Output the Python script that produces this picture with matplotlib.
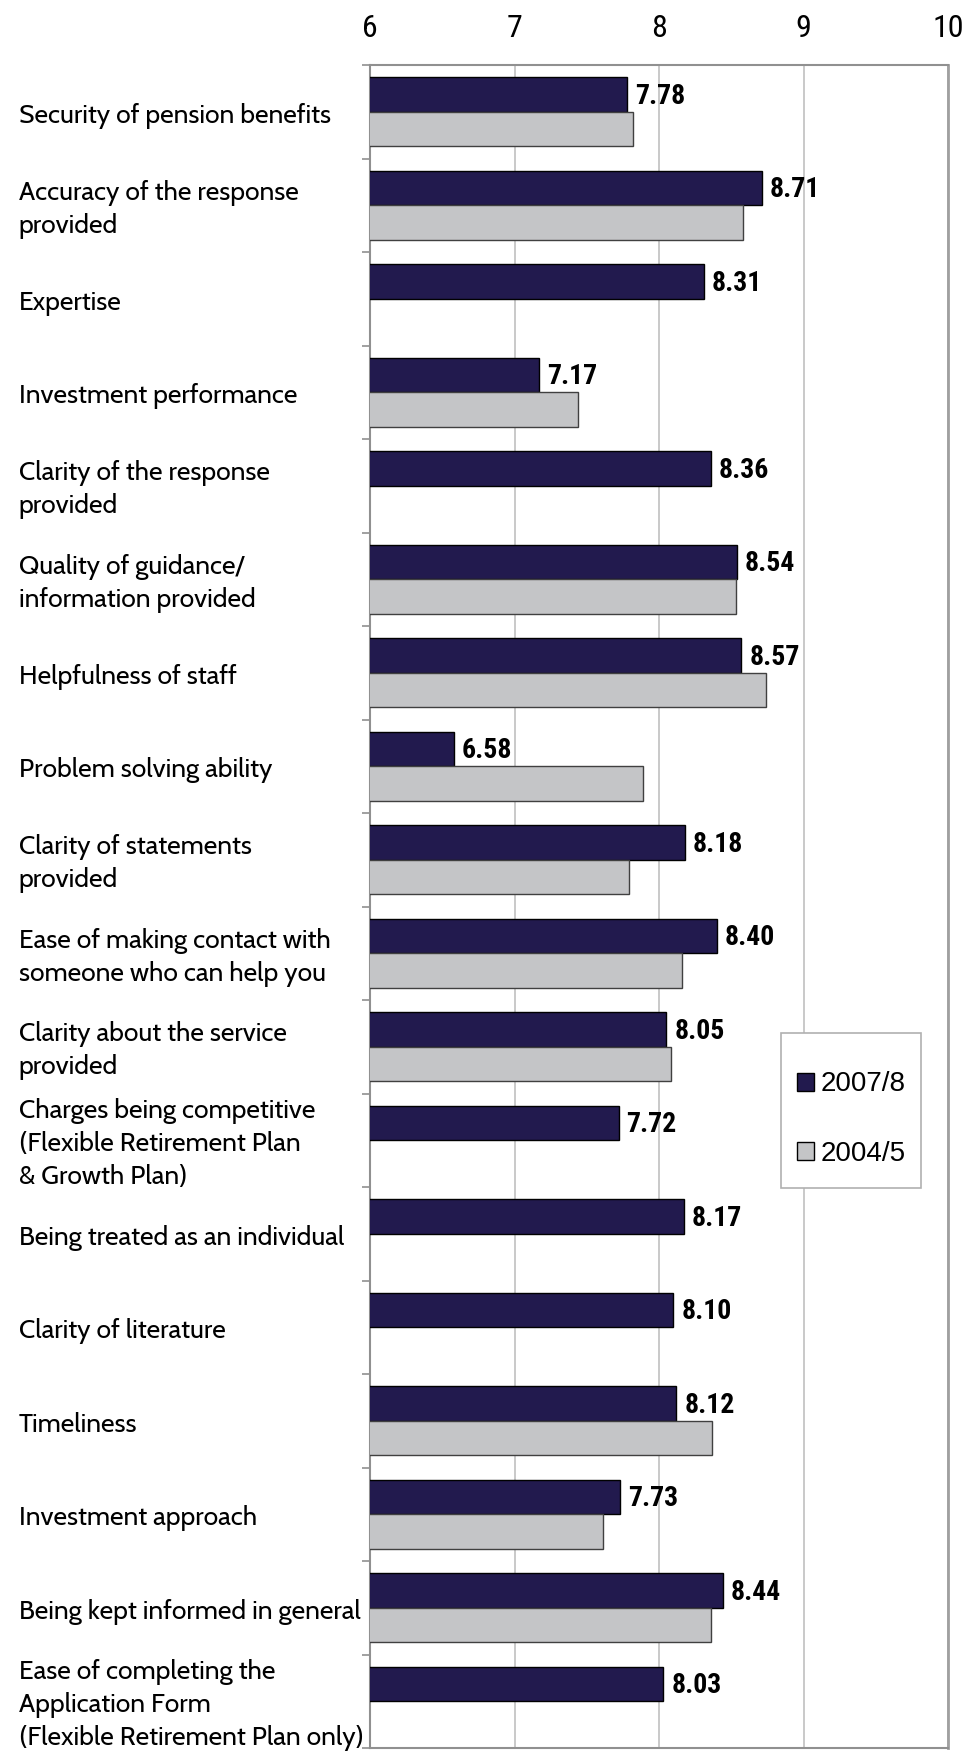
import numpy as np
import matplotlib
matplotlib.use("Agg")
import matplotlib.pyplot as plt
from matplotlib.patches import Patch, Rectangle

categories = [
    "Security of pension benefits",
    "Accuracy of the response\nprovided",
    "Expertise",
    "Investment performance",
    "Clarity of the response\nprovided",
    "Quality of guidance/\ninformation provided",
    "Helpfulness of staff",
    "Problem solving ability",
    "Clarity of statements\nprovided",
    "Ease of making contact with\nsomeone who can help you",
    "Clarity about the service\nprovided",
    "Charges being competitive\n(Flexible Retirement Plan\n& Growth Plan)",
    "Being treated as an individual",
    "Clarity of literature",
    "Timeliness",
    "Investment approach",
    "Being kept informed in general",
    "Ease of completing the\nApplication Form\n(Flexible Retirement Plan only)",
]
vals_2007 = [7.78, 8.71, 8.31, 7.17, 8.36, 8.54, 8.57, 6.58, 8.18, 8.40,
             8.05, 7.72, 8.17, 8.10, 8.12, 7.73, 8.44, 8.03]
vals_2004 = [7.82, 8.58, None, 7.44, None, 8.53, 8.74, 7.89, 7.79, 8.16,
             8.08, None, None, None, 8.37, 7.61, 8.36, None]
series_names = ["2007/8", "2004/5"]
xticks = [6, 7, 8, 9, 10]

dark = "#221a4e"
grey = "#c4c5c7"
narrow = ["Roboto Condensed", "Liberation Sans", "DejaVu Sans"]
label_font = ["Cabin", "Lato", "DejaVu Sans"]

fig = plt.figure(figsize=(9.65, 17.57), dpi=100)
ax = fig.add_axes([370 / 965, 1 - 1748 / 1757, 578 / 965, 1683 / 1757])

y = np.arange(len(categories))
h = 0.37
ax.barh(y - h / 2, vals_2007, height=h, color=dark,
        edgecolor="black", linewidth=1.0, zorder=3)
for yi, v in zip(y, vals_2004):
    if v is not None:
        ax.barh(yi + h / 2, v, height=h, color=grey,
                edgecolor="#404040", linewidth=1.0, zorder=3)

# value labels for 2007/8
for yi, v in zip(y, vals_2007):
    ax.text(v + 0.055, yi - h / 2 + 0.02, f"{v:.2f}", va="center", ha="left",
            fontsize=20, fontweight="bold", family=narrow, zorder=4)

ax.set_xlim(6, 10)
ax.set_ylim(len(categories) - 0.5, -0.5)
ax.xaxis.tick_top()
ax.set_xticks(xticks)
ax.set_xticklabels([str(t) for t in xticks], family=narrow, fontsize=23)
ax.tick_params(axis="x", length=0, pad=16)
ax.set_yticks([])
ax.set_yticks(np.arange(len(categories) + 1) - 0.5, minor=True)
ax.tick_params(axis="y", which="minor", length=6, color="#909090", width=1.2)
ax.grid(axis="x", color="#c0c0c0", linewidth=1.2, zorder=0)

for side in ["left", "top", "bottom"]:
    ax.spines[side].set_color("#909090")
    ax.spines[side].set_linewidth(1.5)
ax.spines["right"].set_color("#a0a0a0")
ax.spines["right"].set_linewidth(2.0)

# category labels, left aligned near the figure edge
for yi, c in zip(y, categories):
    ax.text(-0.608, yi + 0.045, c, transform=ax.get_yaxis_transform(), ha="left",
            va="center", fontsize=19, family=label_font, linespacing=1.35)

# legend: frame drawn separately so the padding can match
fig.patches.append(Rectangle((781 / 965, 1 - 1188 / 1757), 140 / 965, 155 / 1757,
                             transform=fig.transFigure, facecolor="white",
                             edgecolor="#b0b0b0", linewidth=1.2, zorder=5))
handles = [Patch(facecolor=dark, edgecolor="black"),
           Patch(facecolor=grey, edgecolor="black")]
leg = fig.legend(handles, series_names, loc="center left",
                 bbox_to_anchor=(797 / 965, 1 - 1119 / 1757), frameon=False,
                 prop={"family": ["Liberation Sans", "DejaVu Sans"], "size": 20},
                 handlelength=0.6, handleheight=0.6, handletextpad=0.25,
                 labelspacing=1.55, borderpad=0, borderaxespad=0)
leg.set_zorder(6)

fig.savefig("out.png", dpi=100)
